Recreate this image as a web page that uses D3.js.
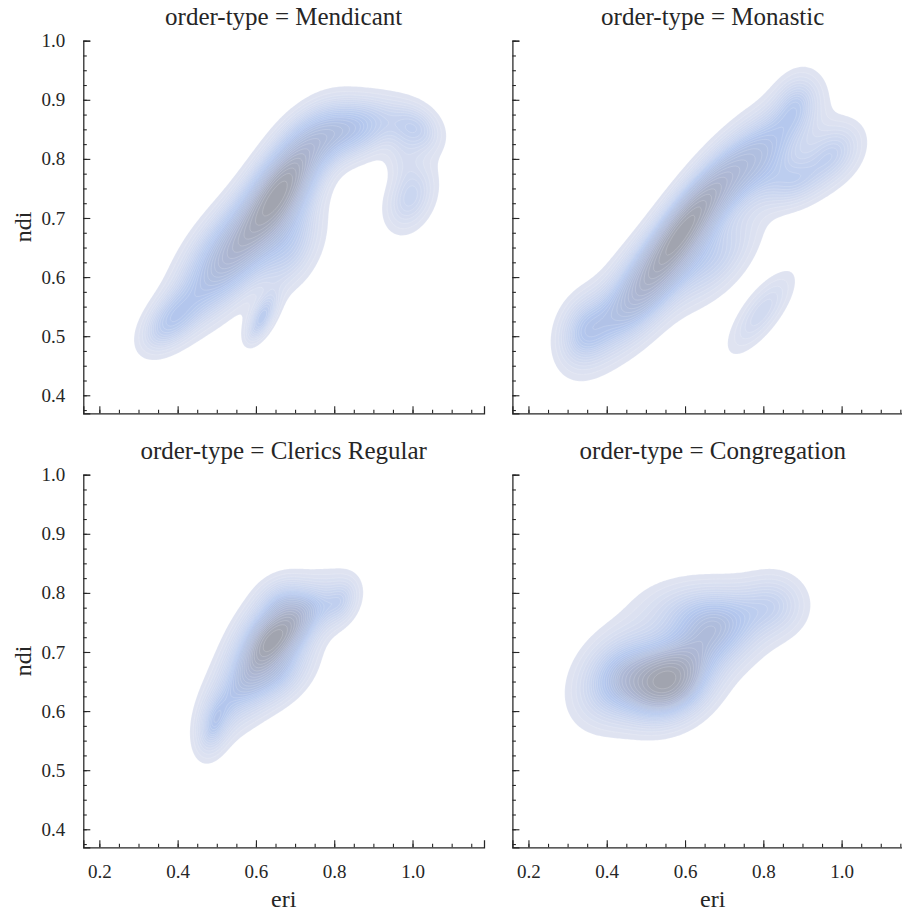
<!DOCTYPE html>
<html><head><meta charset="utf-8">
<script src="https://cdn.jsdelivr.net/npm/d3@7"></script>
<style>body{margin:0;background:#fff}svg{display:block}</style>
</head><body><svg id="chart" width="902" height="915"></svg>
<script>
// ---- data -------------------------------------------------------------
const orderTypes = ["Mendicant", "Monastic", "Clerics Regular", "Congregation"];
const xTicks = [0.2, 0.4, 0.6, 0.8, 1.0];
const yTicks = [0.4, 0.5, 0.6, 0.7, 0.8, 0.9, 1.0];
const xLabel = "eri";
const yLabel = "ndi";
// density bumps: [eri, ndi, sdEri, sdNdi, corr, weight]
const mendicantBumps = [
  [0.665, 0.750, 0.075, 0.068, 0.68, 0.33],
  [0.52, 0.630, 0.080, 0.065, 0.60, 0.22],
  [0.38, 0.525, 0.050, 0.035, 0.50, 0.045],
  [0.84, 0.850, 0.080, 0.035, 0.30, 0.11],
  [1.01, 0.850, 0.045, 0.028, -0.20, 0.03],
  [0.995, 0.735, 0.045, 0.040, 0.30, 0.04],
  [0.615, 0.530, 0.028, 0.028, 0.60, 0.02],
  [0.69, 0.650, 0.055, 0.050, 0.40, 0.06],
  [0.975, 0.800, 0.030, 0.025, 0.00, 0.006]
];
const monasticBumps = [
  [0.60, 0.685, 0.080, 0.070, 0.80, 0.32],
  [0.48, 0.570, 0.085, 0.065, 0.65, 0.20],
  [0.34, 0.510, 0.045, 0.040, 0.20, 0.05],
  [0.78, 0.800, 0.085, 0.060, 0.65, 0.18],
  [0.98, 0.810, 0.050, 0.035, 0.30, 0.045],
  [0.885, 0.895, 0.040, 0.035, 0.20, 0.03],
  [0.795, 0.540, 0.055, 0.045, 0.75, 0.035],
  [0.88, 0.760, 0.055, 0.030, 0.30, 0.04],
  [0.68, 0.630, 0.070, 0.050, 0.60, 0.07]
];
const clericsBumps = [
  [0.63, 0.725, 0.058, 0.050, 0.45, 0.38],
  [0.56, 0.640, 0.058, 0.050, 0.45, 0.20],
  [0.49, 0.575, 0.030, 0.035, 0.30, 0.07],
  [0.72, 0.750, 0.055, 0.045, 0.60, 0.18],
  [0.82, 0.785, 0.032, 0.028, 0.30, 0.05],
  [0.68, 0.790, 0.045, 0.025, 0.00, 0.04],
  [0.67, 0.655, 0.055, 0.035, 0.50, 0.09]
];
const congregationBumps = [
  [0.555, 0.648, 0.070, 0.042, 0.20, 0.35],
  [0.43, 0.660, 0.070, 0.050, 0.30, 0.20],
  [0.68, 0.730, 0.080, 0.045, 0.30, 0.20],
  [0.83, 0.780, 0.055, 0.035, 0.00, 0.06],
  [0.62, 0.770, 0.090, 0.035, 0.00, 0.10]
];
const panelBumps = [mendicantBumps, monasticBumps, clericsBumps, congregationBumps];

// ---- layout -----------------------------------------------------------
const colX = [83.3, 512.4];
const rowY = [40.7, 474.7];
const W = 400.7, H = 372.6;
const xDomain = [0.159, 1.1826];
const yDomain = [0.3695, 1.0];
const nLevels = 30, thresh = 0.05;
const textColor = "#262626";
const font = "'Liberation Serif', 'Times New Roman', serif";
const colorScale = d3.scaleLinear()
  .domain([0, 0.45, 0.75, 1])
  .range(["#dfe3f1", "#b3c7ee", "#adb7d4", "#a1a4af"])
  .interpolate(d3.interpolateRgb);

const svg = d3.select("#chart");

function density(bumps, ex, ny) {
  let s = 0;
  for (const [mx, my, sx, sy, r, w] of bumps) {
    const dx = (ex - mx) / sx, dy = (ny - my) / sy;
    const q = 1 - r * r;
    const z = (dx * dx - 2 * r * dx * dy + dy * dy) / q;
    s += w / (2 * Math.PI * sx * sy * Math.sqrt(q)) * Math.exp(-z / 2);
  }
  return s;
}

orderTypes.forEach((name, k) => {
  const col = k % 2, row = Math.floor(k / 2);
  const g = svg.append("g").attr("transform", `translate(${colX[col]},${rowY[row]})`);
  const x = d3.scaleLinear().domain(xDomain).range([0, W]);
  const y = d3.scaleLinear().domain(yDomain).range([H, 0]);

  // density grid
  const step = 2;
  const nx = Math.ceil(W / step), ny = Math.ceil(H / step);
  const values = new Float64Array(nx * ny);
  for (let j = 0; j < ny; j++) for (let i = 0; i < nx; i++) {
    values[i + j * nx] = density(panelBumps[k], x.invert((i + 0.5) * step), y.invert((j + 0.5) * step));
  }
  // iso-proportion levels (like seaborn)
  const sorted = Array.from(values).sort((a, b) => b - a);
  const total = d3.sum(sorted);
  const cum = []; let acc = 0;
  for (const v of sorted) { acc += v; cum.push(acc / total); }
  const props = d3.range(nLevels).map(i => thresh + (1 - thresh) * i / (nLevels - 1));
  const levels = props.map(p => {
    const idx = d3.bisectLeft(cum, 1 - p);
    return sorted[Math.min(idx, sorted.length - 1)];
  }).sort((a, b) => a - b);
  const contours = d3.contours().size([nx, ny]).thresholds(levels.slice(0, -1))(values);
  const path = d3.geoPath(d3.geoTransform({
    point(px, py) { this.stream.point(px * step, py * step); }
  }));
  g.append("g").selectAll("path").data(contours).join("path")
    .attr("d", path)
    .attr("fill", (d, i) => colorScale(i / (contours.length - 1)))
    .attr("stroke", "rgba(255,255,255,0.28)")
    .attr("stroke-width", 0.6);

  // axes
  const xMinor = d3.range(0.15, 1.2, 0.05).filter(v => v >= xDomain[0] && v <= xDomain[1]);
  const yMinor = d3.range(0.375, 1.001, 0.025);
  const xa = g.append("g").attr("transform", `translate(0,${H})`)
    .call(d3.axisBottom(x).tickValues(xMinor).tickSize(-3.5).tickFormat(""));
  xa.select(".domain").remove();
  const xb = g.append("g").attr("transform", `translate(0,${H})`)
    .call(d3.axisBottom(x).tickValues(xTicks).tickSize(-7).tickPadding(17)
      .tickFormat(row === 1 ? d3.format(".1f") : ""));
  const ya = g.append("g").call(d3.axisLeft(y).tickValues(yMinor).tickSize(-3.5).tickFormat(""));
  ya.select(".domain").remove();
  const yb = g.append("g").call(d3.axisLeft(y).tickValues(yTicks).tickSize(-7).tickPadding(18)
      .tickFormat(col === 0 ? d3.format(".1f") : ""));
  [xa, xb, ya, yb].forEach(a => {
    a.selectAll("line").attr("stroke", textColor).attr("stroke-width", 1.1);
    a.selectAll(".domain").attr("stroke", textColor).attr("stroke-width", 1.25);
    a.selectAll("text").attr("fill", textColor).style("font-family", font).style("font-size", "19px");
  });

  // title
  g.append("text").attr("x", W / 2).attr("y", -16).attr("text-anchor", "middle")
    .attr("fill", textColor).style("font-family", font).style("font-size", "25px")
    .text(`order-type = ${name}`);
  if (row === 1) {
    g.append("text").attr("x", W / 2).attr("y", H + 60).attr("text-anchor", "middle")
      .attr("fill", textColor).style("font-family", font).style("font-size", "24px").text(xLabel);
  }
  if (col === 0) {
    g.append("text").attr("transform", `translate(${-52},${H / 2}) rotate(-90)`)
      .attr("text-anchor", "middle")
      .attr("fill", textColor).style("font-family", font).style("font-size", "24px").text(yLabel);
  }
});
</script></body></html>
